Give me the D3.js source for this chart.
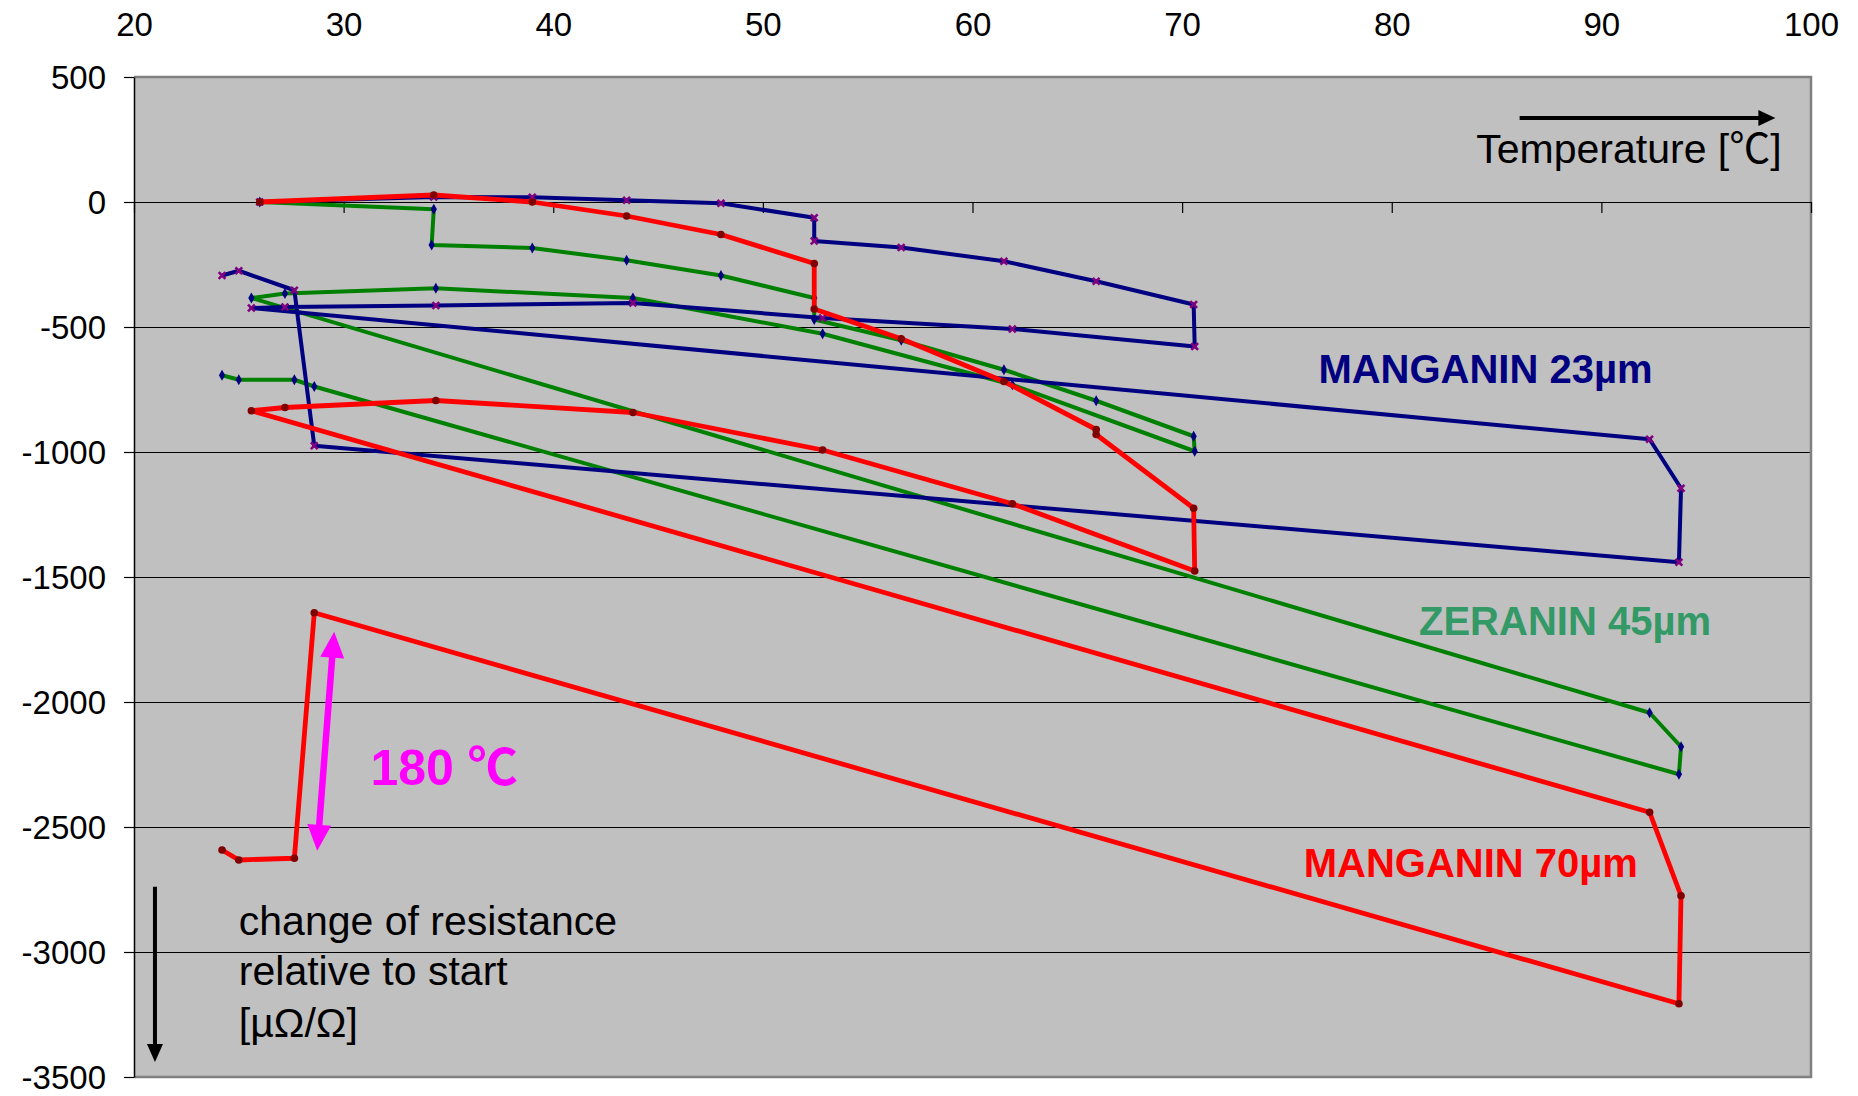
<!DOCTYPE html>
<html>
<head>
<meta charset="utf-8">
<script src="https://cdn.jsdelivr.net/npm/d3@7"></script>
<style>
  html, body { margin: 0; padding: 0; background: #ffffff; }
  svg { display: block; }
  text { font-family: "Liberation Sans", Arial, Helvetica, "Noto Sans CJK JP", sans-serif; }
</style>
</head>
<body>
<svg id="chart" width="1858" height="1096"></svg>
<script>
// Axis ticks
const tempTicks = [20, 30, 40, 50, 60, 70, 80, 90, 100];
const resTicks = [500, 0, -500, -1000, -1500, -2000, -2500, -3000, -3500];
const gridTicks = [-500, -1000, -1500, -2000, -2500, -3000];

// MANGANIN 23 µm: temperature [°C] and change of resistance [µΩ/Ω]
const mang23Temp = [26.0, 34.3, 39.0, 43.5, 48.0, 52.45, 52.45, 56.6, 61.5, 65.9, 70.55, 70.6,
                    61.9, 52.85, 43.8, 34.4, 27.2, 25.6, 92.3, 93.8, 93.7, 28.6, 27.65, 25.0, 24.2];
const mang23Res  = [0, 20, 19, 7, -5, -63, -156, -182, -237, -317, -410, -578,
                    -508, -464, -404, -414, -420, -424, -949, -1145, -1441, -975, -353, -275, -294];

// ZERANIN 45 µm
const zer45Temp = [26.0, 34.3, 34.2, 39.0, 43.5, 48.0, 52.45, 52.45, 56.6, 61.5, 65.9, 70.55, 70.6,
                   61.9, 52.85, 43.8, 34.4, 27.2, 25.6, 92.3, 93.8, 93.7, 28.6, 27.65, 25.0, 24.2];
const zer45Res  = [0, -29, -172, -184, -233, -294, -384, -470, -553, -671, -795, -937, -997,
                   -731, -527, -384, -345, -366, -384, -2043, -2179, -2289, -738, -711, -711, -693];

// MANGANIN 70 µm
const mang70Temp = [26.0, 34.3, 39.0, 43.5, 48.0, 52.45, 52.45, 56.6, 61.5, 65.9, 65.9, 70.55, 70.6,
                    61.9, 52.85, 43.8, 34.4, 27.2, 25.6, 92.3, 93.8, 93.7, 28.6, 27.65, 25.0, 24.2];
const mang70Res  = [0, 28, 0, -56, -130, -246, -428, -547, -718, -910, -930, -1225, -1476,
                    -1207, -992, -842, -794, -822, -835, -2441, -2775, -3207, -1643, -2625, -2632, -2592];

// Series labels: text, anchor temperature, anchor resistance
const labelTexts = ["MANGANIN 23µm", "ZERANIN 45µm", "MANGANIN 70µm"];
const labelTemp  = [76.5, 81.3, 75.8];
const labelRes   = [-724, -1732, -2700];

const series = [
  { temp: zer45Temp,  res: zer45Res,  line: "#008000", marker: "#000080", shape: "diamond", width: 4 },
  { temp: mang23Temp, res: mang23Res, line: "#000080", marker: "#800080", shape: "x",       width: 4 },
  { temp: mang70Temp, res: mang70Res, line: "#FF0000", marker: "#800000", shape: "circle",  width: 4.8 }
];
const labelColors = ["#000080", "#339966", "#FF0000"];

const svg = d3.select("#chart");
const plotLeft = 134, plotRight = 1811, plotTop = 77, plotBottom = 1077;

const x = d3.scaleLinear().domain([20, 100]).range([plotLeft, plotRight]);
const y = d3.scaleLinear().domain([500, -3500]).range([plotTop, plotBottom]);

// plot area
svg.append("rect")
  .attr("x", plotLeft).attr("y", plotTop)
  .attr("width", plotRight - plotLeft).attr("height", plotBottom - plotTop)
  .attr("fill", "#C0C0C0");

// horizontal gridlines
const grid = svg.append("g")
  .attr("transform", `translate(${plotLeft},0)`)
  .call(d3.axisLeft(y).tickValues(gridTicks).tickSize(-(plotRight - plotLeft)).tickFormat(""));
grid.select(".domain").remove();
grid.selectAll("line").attr("stroke", "#000").attr("stroke-width", 1.2);

// frame (top, right, bottom)
const frame = d3.path();
frame.moveTo(plotLeft, plotTop); frame.lineTo(plotRight, plotTop);
frame.lineTo(plotRight, plotBottom); frame.lineTo(plotLeft, plotBottom);
svg.append("path").attr("d", frame.toString())
  .attr("fill", "none").attr("stroke", "#808080").attr("stroke-width", 2.5);

// y axis
const yAxis = svg.append("g")
  .attr("transform", `translate(${plotLeft},0)`)
  .call(d3.axisLeft(y).tickValues(resTicks).tickSize(10).tickPadding(18).tickSizeOuter(0)
    .tickFormat(d => String(d)));
yAxis.select(".domain").attr("stroke", "#000").attr("stroke-width", 1.5);
yAxis.selectAll("line").attr("stroke", "#000").attr("stroke-width", 1.2);
yAxis.selectAll("text")
  .attr("font-size", 33).attr("fill", "#000")
  .attr("font-family", "Liberation Sans, Arial, sans-serif")
  .attr("dy", "0.35em");

// x axis line at zero with tick marks below
const xAxis = svg.append("g")
  .attr("transform", `translate(0,${y(0)})`)
  .call(d3.axisBottom(x).tickValues(tempTicks).tickSize(11).tickSizeOuter(0).tickFormat(""));
xAxis.select(".domain").attr("stroke", "#000").attr("stroke-width", 1.2);
xAxis.selectAll("line").attr("stroke", "#000").attr("stroke-width", 1.2);

// x tick labels above the plot
const xLabels = svg.append("g")
  .attr("transform", "translate(0,36)")
  .call(d3.axisTop(x).tickValues(tempTicks).tickSize(0).tickPadding(0).tickFormat(d => String(d)));
xLabels.select(".domain").remove();
xLabels.selectAll("text")
  .attr("font-size", 33).attr("fill", "#000")
  .attr("font-family", "Liberation Sans, Arial, sans-serif");

// curves
const line = d3.line().x(d => x(d[0])).y(d => y(d[1]));
const xMark = s => `M${-s},${-s}L${s},${s}M${-s},${s}L${s},${-s}`;

series.forEach(s => {
  const pts = s.temp.map((t, i) => [t, s.res[i]]);
  svg.append("path")
    .attr("d", line(pts))
    .attr("fill", "none")
    .attr("stroke", s.line)
    .attr("stroke-width", s.width)
    .attr("stroke-linejoin", "round");

  const g = svg.append("g");
  pts.forEach(p => {
    const m = g.append("path").attr("transform", `translate(${x(p[0])},${y(p[1])})`);
    if (s.shape === "circle") {
      m.attr("d", d3.symbol(d3.symbolCircle, 46)()).attr("fill", s.marker);
    } else if (s.shape === "diamond") {
      m.attr("d", d3.symbol(d3.symbolDiamond, 34)()).attr("fill", s.marker);
    } else {
      m.attr("d", xMark(3.4)).attr("fill", "none")
        .attr("stroke", s.marker).attr("stroke-width", 2.6);
    }
  });
});

// series labels
labelTexts.forEach((t, i) => {
  svg.append("text")
    .attr("x", x(labelTemp[i])).attr("y", y(labelRes[i]))
    .attr("font-size", 40).attr("font-weight", "bold")
    .attr("fill", labelColors[i])
    .text(t);
});

// arrows
function arrow(x1, y1, x2, y2, color, w, hl, hw, both) {
  const dx = x2 - x1, dy = y2 - y1, len = Math.hypot(dx, dy);
  const ux = dx / len, uy = dy / len, nx = -uy, ny = ux;
  const sx = both ? x1 + ux * hl * 0.9 : x1, sy = both ? y1 + uy * hl * 0.9 : y1;
  const ex = x2 - ux * hl * 0.9, ey = y2 - uy * hl * 0.9;
  svg.append("line").attr("x1", sx).attr("y1", sy).attr("x2", ex).attr("y2", ey)
    .attr("stroke", color).attr("stroke-width", w);
  const head = (tx, ty, vx, vy) => {
    const bx = tx - vx * hl, by = ty - vy * hl;
    svg.append("polygon")
      .attr("points", [[tx, ty], [bx + nx * hw / 2, by + ny * hw / 2], [bx - nx * hw / 2, by - ny * hw / 2]]
        .map(p => p.join(",")).join(" "))
      .attr("fill", color);
  };
  head(x2, y2, ux, uy);
  if (both) head(x1, y1, -ux, -uy);
}

// temperature direction
arrow(x(86.1), y(336), x(98.3), y(336), "#000", 4, 17, 16, false);
svg.append("text")
  .attr("x", x(98.6)).attr("y", y(156))
  .attr("text-anchor", "end")
  .attr("font-size", 41).attr("fill", "#000")
  .text("Temperature [℃]");

// resistance direction
arrow(x(21.0), y(-2739), x(21.0), y(-3440), "#000", 4, 18, 16, false);
const resLabel = ["change of resistance", "relative to start", "[µΩ/Ω]"];
const resLabelRes = [-2932, -3132, -3340];
resLabel.forEach((t, i) => {
  svg.append("text")
    .attr("x", x(25.0)).attr("y", y(resLabelRes[i]))
    .attr("font-size", 41).attr("fill", "#000")
    .text(t);
});

// 180 °C annealing step
arrow(x(29.55), y(-1719), x(28.74), y(-2595), "#FF00FF", 6.5, 26, 24, true);
svg.append("text")
  .attr("x", x(31.28)).attr("y", y(-2332))
  .attr("font-size", 50).attr("font-weight", "bold")
  .attr("fill", "#FF00FF")
  .text("180 ℃");
</script>
</body>
</html>
